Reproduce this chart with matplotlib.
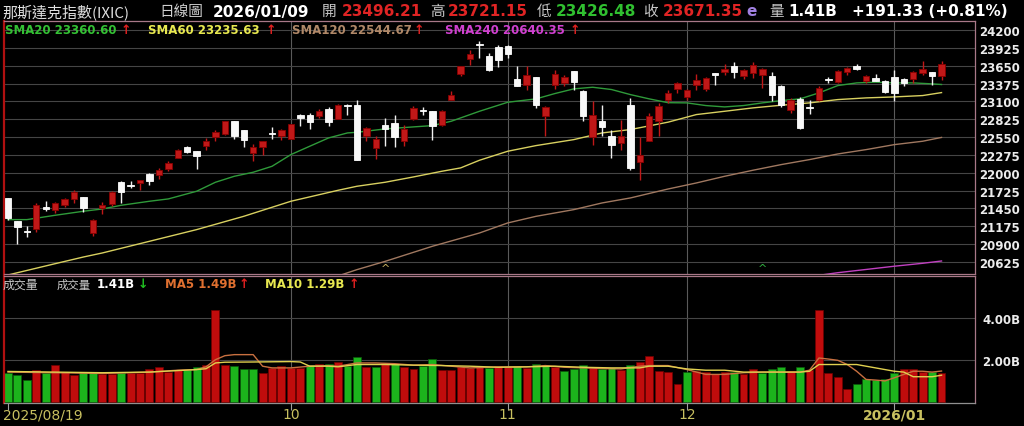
import numpy as np
import matplotlib
matplotlib.use('Agg')
import matplotlib.pyplot as plt
import matplotlib.transforms as mtrans

# ---- data (NASDAQ composite, daily) ----
opens = [21607, 21252, 21098, 21134, 21468, 21432, 21499, 21602, 21627, 21072,
         21458, 21520, 21859, 21812, 21843, 21982, 21961, 22059, 22234, 22398,
         22332, 22419, 22547, 22604, 22794, 22655, 22306, 22393, 22609, 22573,
         22527, 22887, 22892, 22882, 22984, 22830, 23051, 23051, 22573, 22383,
         22743, 22769, 22486, 22830, 22974, 22948, 22743, 23128, 23529, 23755,
         23981, 23797, 23940, 23951, 23452, 23349, 23473, 22882, 23349, 23385,
         23565, 23267, 22553, 22794, 22563, 22460, 23051, 22162, 22486, 22794,
         23128, 23293, 23169, 23360, 23293, 23540, 23560, 23642, 23498, 23540,
         23514, 23498, 23344, 22974, 23144, 23015, 23118, 23452, 23396, 23550,
         23653, 23411, 23462, 23411, 23478, 23452, 23447, 23540, 23555, 23496.21]
highs = [21612, 21262, 21175, 21535, 21561, 21555, 21612, 21730, 21632, 21288,
         21545, 21715, 21874, 21879, 21895, 21997, 22075, 22188, 22368, 22409,
         22342, 22537, 22655, 22805, 22805, 22666, 22450, 22496, 22707, 22676,
         22758, 22912, 22923, 22990, 23010, 23061, 23061, 23118, 22707, 22563,
         22840, 22892, 22743, 23026, 23010, 22958, 22974, 23257, 23653, 23899,
         24028, 23848, 23976, 23976, 23653, 23642, 23483, 23026, 23581, 23514,
         23576, 23272, 23103, 23051, 22666, 22820, 23154, 22553, 22923, 23077,
         23282, 23396, 23293, 23529, 23478, 23545, 23683, 23704, 23601, 23704,
         23612, 23550, 23360, 23154, 23169, 23128, 23334, 23478, 23581, 23632,
         23683, 23514, 23529, 23437, 23591, 23462, 23565, 23719, 23560, 23721.15]
lows = [21278, 20908, 21011, 21088, 21406, 21381, 21468, 21535, 21391, 21031,
        21370, 21483, 21535, 21766, 21730, 21807, 21905, 22023, 22224, 22306,
        22059, 22357, 22496, 22589, 22527, 22398, 22177, 22280, 22527, 22501,
        22527, 22717, 22681, 22846, 22717, 22830, 22897, 22203, 22486, 22213,
        22419, 22398, 22409, 22820, 22897, 22511, 22727, 23118, 23488, 23668,
        23771, 23565, 23632, 23771, 23334, 23283, 23000, 22563, 23298, 23344,
        23283, 22794, 22434, 22563, 22229, 22357, 22049, 21895, 22486, 22573,
        23077, 23231, 23118, 23283, 23257, 23360, 23514, 23463, 23447, 23463,
        23308, 23103, 23015, 22923, 22676, 22912, 23103, 23385, 23385, 23514,
        23581, 23385, 23411, 23231, 23103, 23334, 23385, 23514, 23360, 23426.48]
closes = [21304, 21165, 21090, 21499, 21442, 21535, 21597, 21705, 21458, 21273,
          21509, 21705, 21699, 21802, 21884, 21879, 22039, 22152, 22352, 22321,
          22255, 22496, 22630, 22794, 22563, 22501, 22398, 22486, 22600, 22655,
          22753, 22851, 22779, 22959, 22779, 23051, 23031, 22203, 22691, 22527,
          22676, 22553, 22676, 23000, 22954, 22727, 22948, 23205, 23642, 23838,
          23971, 23581, 23735, 23838, 23344, 23504, 23051, 23015, 23529, 23473,
          23401, 22871, 22897, 22707, 22434, 22563, 22075, 22280, 22871, 23036,
          23231, 23385, 23283, 23437, 23462, 23509, 23601, 23550, 23581, 23668,
          23601, 23205, 23046, 23118, 22691, 23000, 23308, 23437, 23565, 23617,
          23601, 23488, 23421, 23241, 23231, 23385, 23550, 23601, 23488, 23671.35]

# volume in billions, and r/g colour as shown in the volume panel
volume = [1.375, 1.31, 1.06, 1.56, 1.375, 1.77, 1.44, 1.28, 1.44, 1.44,
          1.34, 1.34, 1.41, 1.375, 1.375, 1.59, 1.69, 1.44, 1.56, 1.52,
          1.69, 1.80, 4.41, 1.77, 1.72, 1.61, 1.61, 1.41, 1.64, 1.75,
          1.64, 1.64, 1.80, 1.84, 1.84, 1.92, 1.75, 2.16, 1.67, 1.69,
          1.875, 1.83, 1.69, 1.61, 1.72, 2.06, 1.53, 1.56, 1.67, 1.64,
          1.67, 1.64, 1.72, 1.67, 1.72, 1.64, 1.84, 1.80, 1.67, 1.48,
          1.59, 1.77, 1.64, 1.61, 1.64, 1.53, 1.80, 1.91, 2.22, 1.48,
          1.44, 0.89, 1.45, 1.48, 1.44, 1.33, 1.44, 1.45, 1.33, 1.59,
          1.41, 1.59, 1.69, 1.48, 1.69, 1.56, 4.375, 1.375, 1.22, 0.625,
          0.89, 1.09, 1.05, 1.125, 1.375, 1.59, 1.59, 1.44, 1.45, 1.41]
vol_dir = ('gggrgrrrggrrgrrrrrrggrrrgggrrrrrgrgrggrgrgrrggrrrrrgrrgrggrgggrggrgr'
           'rrrrgrrrrgrrgggrgrrrrrgggggrrrgr')

# moving averages (sampled from the lines)
sma20_i = [0, 2, 5, 8, 10, 12, 15, 17, 20, 22, 24, 26, 28, 30, 32, 34, 36, 37, 40, 43, 45, 47,
           50, 53, 56, 58, 60, 62, 64, 66, 68, 70, 72, 74, 76, 78, 80, 82, 84, 86, 88, 90,
           92, 94, 96, 98, 99]
sma20_v = [21278, 21278, 21345, 21407, 21442, 21499, 21561, 21597, 21715, 21854, 21946, 22008,
           22100, 22280, 22409, 22537, 22614, 22624, 22676, 22707, 22727, 22794, 22948, 23087,
           23139, 23221, 23293, 23318, 23283, 23205, 23139, 23080, 23077, 23036, 23015, 23036,
           23077, 23113, 23139, 23231, 23344, 23385, 23396, 23385, 23385, 23370, 23360.60]
sma60_i = [0, 5, 8, 10, 15, 20, 25, 30, 35, 37, 40, 43, 46, 48, 50, 53, 56, 60, 63, 66, 70,
           73, 76, 79, 82, 85, 88, 91, 94, 97, 99]
sma60_v = [20425, 20599, 20702, 20764, 20944, 21124, 21329, 21561, 21730, 21792, 21854, 21936,
           22023, 22075, 22193, 22332, 22419, 22511, 22614, 22666, 22780, 22897, 22948, 23000,
           23041, 23077, 23128, 23154, 23169, 23190, 23235.63]
sma120_i = [35, 37, 40, 45, 50, 53, 56, 60, 63, 66, 70, 73, 76, 79, 82, 85, 88, 91, 94, 97, 99]
sma120_v = [20410, 20507, 20635, 20867, 21072, 21227, 21329, 21432, 21535, 21612, 21750, 21843,
            21946, 22039, 22126, 22203, 22290, 22357, 22434, 22486, 22544.67]
sma240_i = [86, 88, 91, 94, 97, 99]
sma240_v = [20420, 20460, 20510, 20560, 20605, 20640.35]

ma5_i = [0, 5, 10, 15, 18, 20, 21, 22, 23, 24, 26, 27, 28, 30, 32, 34, 35, 37, 39, 41, 43, 45,
         47, 49, 51, 53, 55, 57, 59, 61, 63, 65, 67, 68, 70, 72, 74, 76, 78, 80, 82, 84, 85,
         86, 87, 88, 89, 90, 91, 92, 93, 94, 95, 96, 97, 98, 99]
ma5_v = [1.44, 1.41, 1.375, 1.44, 1.53, 1.56, 1.69, 2.03, 2.22, 2.27, 2.27, 1.72, 1.64, 1.64,
         1.72, 1.75, 1.72, 1.875, 1.875, 1.84, 1.77, 1.80, 1.72, 1.64, 1.67, 1.69, 1.69, 1.75,
         1.67, 1.64, 1.61, 1.59, 1.72, 1.75, 1.75, 1.56, 1.33, 1.33, 1.41, 1.44, 1.44, 1.44,
         1.53, 2.11, 2.06, 2.00, 1.80, 1.48, 1.09, 1.06, 1.02, 1.17, 1.33, 1.48, 1.48, 1.44, 1.49]
ma10_i = [0, 5, 10, 15, 20, 21, 22, 23, 26, 30, 31, 32, 34, 35, 37, 40, 43, 46, 49, 52, 55, 58,
          61, 64, 67, 68, 70, 72, 74, 76, 78, 80, 82, 84, 85, 86, 88, 90, 91, 92, 93, 94, 95,
          96, 97, 98, 99]
ma10_v = [1.47, 1.44, 1.41, 1.44, 1.56, 1.60, 1.875, 1.91, 1.92, 1.94, 1.92, 1.72, 1.72, 1.69,
          1.80, 1.80, 1.77, 1.75, 1.72, 1.67, 1.69, 1.72, 1.67, 1.64, 1.64, 1.72, 1.72, 1.59,
          1.53, 1.53, 1.44, 1.44, 1.44, 1.44, 1.48, 1.80, 1.80, 1.80, 1.72, 1.64, 1.56, 1.48,
          1.44, 1.22, 1.22, 1.22, 1.29]

price_ticks = list(range(20625, 24201, 275))
date_idx = [0, 30, 53, 72, 94]
date_lbl = ['2025/08/19', '10', '11', '12', '2026/01']
mark_idx = [40, 80]
mark_col = ['#c8b060', '#30b040']

# ---- figure ----
W, H = 1024, 427
fig = plt.figure(figsize=(W / 100, H / 100), dpi=100, facecolor='black')
cjk = ['Noto Sans CJK TC', 'DejaVu Sans']

def fx(px):
    return px / W

def fy(py):
    return 1 - py / H

ax = fig.add_axes([fx(4), fy(275), fx(971), (275 - 22) / H])
axv = fig.add_axes([fx(4), fy(404), fx(971), (404 - 277) / H])
for a in (ax, axv):
    a.set_facecolor('black')
    a.set_xlim(-0.424, 102.55)
    for s in a.spines.values():
        s.set_color('#a87888')
        s.set_linewidth(0.9)
    a.spines['left'].set_color('#b01010')
    a.spines['left'].set_linewidth(1.6)
    for xi in date_idx[1:]:
        a.axvline(xi, color='#5a5a5a', lw=0.8, zorder=0)

n = len(closes)
x = np.arange(n)
o = np.array(opens); c = np.array(closes); h = np.array(highs); l = np.array(lows)
up = c >= o
ax.set_ylim(20440, 24339)
for p in price_ticks:
    ax.axhline(p, color='#454545', lw=0.8, zorder=0)

ax.vlines(x[up], l[up], h[up], color='#c01818', lw=1.0, zorder=2)
ax.vlines(x[~up], l[~up], h[~up], color='#f0f0f0', lw=1.0, zorder=2)
body = np.maximum(np.abs(c - o), 10)
ax.bar(x[up], body[up], bottom=np.minimum(o, c)[up], width=0.68,
       color='#c01818', edgecolor='#8a0000', lw=0.6, zorder=3)
ax.bar(x[~up], body[~up], bottom=np.minimum(o, c)[~up], width=0.68,
       color='#f8f8f8', edgecolor='#ffffff', lw=0.6, zorder=3)

ax.plot(sma20_i, sma20_v, color='#2f9a3a', lw=1.0, zorder=1)
ax.plot(sma60_i, sma60_v, color='#d8d060', lw=1.0, zorder=1)
ax.plot(sma120_i, sma120_v, color='#a07860', lw=1.0, zorder=1)
ax.plot(sma240_i, sma240_v, color='#c040c0', lw=1.0, zorder=1)

for mi, mc in zip(mark_idx, mark_col):
    ax.text(mi, 0.005, '^', color=mc, fontsize=8, ha='center', va='bottom',
            transform=mtrans.blended_transform_factory(ax.transData, ax.transAxes))

ax.yaxis.tick_right()
ax.set_yticks(price_ticks)
ax.set_yticklabels([str(p) for p in price_ticks])
ax.tick_params(axis='y', length=0, pad=3, labelcolor='#ececec', labelsize=8.5)
for t in ax.get_yticklabels():
    t.set_fontweight('bold')
ax.set_xticks([])

# volume panel
vol = np.array(volume)
vcol = ['#c00c0c' if d == 'r' else '#1cb41c' for d in vol_dir]
vedge = ['#700000' if d == 'r' else '#0a5a0a' for d in vol_dir]
axv.set_ylim(-0.03, 6.01)
for gv in (2, 4):
    axv.axhline(gv, color='#454545', lw=0.8, zorder=0)
axv.bar(x, vol, width=0.84, color=vcol, edgecolor=vedge, lw=0.5, zorder=2)
axv.plot(ma5_i, ma5_v, color='#c87040', lw=1.0, zorder=3)
axv.plot(ma10_i, ma10_v, color='#e0d050', lw=1.0, zorder=3)
axv.yaxis.tick_right()
axv.set_yticks([2, 4])
axv.set_yticklabels(['2.00B', '4.00B'])
axv.tick_params(axis='y', length=0, pad=5, labelcolor='#ececec', labelsize=8.5)
for t in axv.get_yticklabels():
    t.set_fontweight('bold')
axv.spines['bottom'].set_color('#909090')
axv.set_xticks(date_idx)
axv.set_xticklabels([])
axv.tick_params(axis='x', length=5, color='#a0a0a0', direction='out')
bt = mtrans.blended_transform_factory(axv.transData, axv.transAxes)
for k, (di, dl) in enumerate(zip(date_idx, date_lbl)):
    axv.text(di - 0.55 if k == 0 else di, -0.035, dl, transform=bt,
             ha='left' if k == 0 else 'center', va='top', color='#c8c060',
             fontsize=10, fontweight='bold' if dl == '2026/01' else 'normal',
             family=['Liberation Sans Narrow', 'DejaVu Sans'])

# header line
def t(px, py, s, col, size=11, bold=True, fam=None):
    fig.text(fx(px), fy(py), s, color=col, fontsize=size, ha='left', va='center',
             fontweight='bold' if bold else 'normal', family=fam or ['DejaVu Sans'])

t(2, 12, '那斯達克指數(IXIC)', '#e0e0e0', 10.8, False, cjk)
t(159, 12, '日線圖', '#d0d0d0', 10.5, False, cjk)
t(213, 12, '2026/01/09', '#ffffff', 11)
t(322, 12, '開', '#c8c8c8', 10.5, False, cjk)
t(342, 12, '23496.21', '#e02424', 11)
t(430, 12, '高', '#c8c8c8', 10.5, False, cjk)
t(448, 12, '23721.15', '#e02424', 11)
t(537, 12, '低', '#c8c8c8', 10.5, False, cjk)
t(556, 12, '23426.48', '#30c030', 11)
t(643, 12, '收', '#c8c8c8', 10.5, False, cjk)
t(663, 12, '23671.35', '#e02424', 11)
t(746, 12, 'e', '#a080e0', 11)
t(769, 12, '量', '#c8c8c8', 10.5, False, cjk)
t(788, 12, '1.41B', '#ffffff', 11)
t(852, 12, '+191.33 (+0.81%)', '#ffffff', 11)

# SMA legend row
t(5, 30, 'SMA20 23360.60', '#34c034', 8.5)
t(121, 30, '↑', '#e02020', 9)
t(148, 30, 'SMA60 23235.63', '#e8e850', 8.5)
t(266, 30, '↑', '#e02020', 9)
t(292, 30, 'SMA120 22544.67', '#b08868', 8.5)
t(414, 30, '↑', '#e02020', 9)
t(445, 30, 'SMA240 20640.35', '#d040d0', 8.5)
t(570, 30, '↑', '#e02020', 9)

# volume legend row
t(3, 285, '成交量', '#c8c8c8', 8.6, False, cjk)
t(57, 285, '成交量', '#c8c8c8', 8.2, False, cjk)
t(97, 285, '1.41B', '#ffffff', 8.5)
t(138, 285, '↓', '#20c020', 9)
t(165, 285, 'MA5 1.49B', '#e07030', 8.5)
t(239, 285, '↑', '#e02020', 9)
t(265, 285, 'MA10 1.29B', '#e8e850', 8.5)
t(349, 285, '↑', '#e02020', 9)

fig.savefig('out.png', dpi=100, facecolor='black')
